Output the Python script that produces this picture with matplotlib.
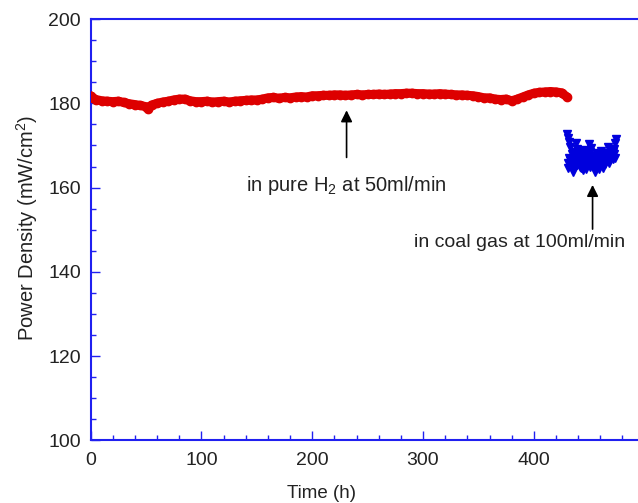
import matplotlib
matplotlib.use("Agg")
import matplotlib.pyplot as plt
from matplotlib.ticker import MultipleLocator

plt.rcParams['font.family'] = ['Liberation Sans', 'DejaVu Sans']
plt.rcParams['mathtext.default'] = 'regular'

# pure H2 run (time in h, power density in mW/cm2)
h2_time = [0, 2, 5, 10, 15, 20, 25, 30, 35, 40, 45, 50, 52, 55, 60, 65, 70, 75,
           80, 85, 90, 95, 100, 105, 110, 115, 120, 125, 130, 135, 140, 145,
           150, 155, 160, 165, 170, 175, 180, 185, 190, 195, 200, 205, 210,
           215, 220, 225, 230, 235, 240, 245, 250, 255, 260, 265, 270, 275,
           280, 285, 290, 295, 300, 305, 310, 315, 320, 325, 330, 335, 340,
           345, 350, 355, 360, 365, 370, 375, 380, 385, 390, 395, 400, 405,
           410, 415, 420, 425, 430]
h2_power = [181.8, 181.2, 180.9, 180.6, 180.5, 180.4, 180.5, 180.2, 179.9,
            179.7, 179.5, 179.2, 178.7, 179.6, 180.0, 180.3, 180.5, 180.8,
            181.0, 181.0, 180.6, 180.4, 180.4, 180.5, 180.3, 180.4, 180.5,
            180.3, 180.5, 180.6, 180.7, 180.8, 180.8, 181.0, 181.3, 181.4,
            181.2, 181.4, 181.3, 181.5, 181.6, 181.5, 181.8, 181.8, 181.9,
            181.9, 182.0, 182.0, 181.9, 182.0, 182.1, 182.0, 182.1, 182.1,
            182.2, 182.1, 182.2, 182.3, 182.3, 182.4, 182.4, 182.3, 182.3,
            182.2, 182.2, 182.3, 182.2, 182.1, 182.0, 182.0, 181.9, 181.8,
            181.6, 181.3, 181.3, 181.0, 180.9, 181.0, 180.6, 181.0, 181.5,
            182.0, 182.4, 182.6, 182.7, 182.8, 182.7, 182.5, 181.5]

# coal gas run
cg_time = [430, 431, 432, 433, 434, 432, 431, 431, 433, 435, 436, 437, 438,
           439, 440, 441, 442, 443, 444, 445, 446, 447, 448, 449, 450, 451,
           452, 453, 454, 455, 456, 457, 458, 459, 460, 461, 462, 463, 464,
           465, 466, 467, 468, 469, 470, 471, 472, 473, 474, 473,
           434, 436, 438, 440, 442, 444, 446, 448, 450, 452, 454, 456, 458,
           460, 462, 464, 466, 468, 470, 472, 435, 439, 443, 447, 451, 455,
           459, 463, 467, 471]
cg_power = [172.8, 171.8, 170.8, 169.6, 168.0, 167.0, 165.8, 164.6, 166.5,
            163.8, 165.2, 167.3, 170.5, 169.2, 168.0, 166.4, 165.0, 167.6,
            164.2, 168.9, 166.8, 165.6, 167.9, 166.2, 170.3, 168.5, 169.3,
            165.3, 167.2, 163.8, 166.0, 168.3, 165.2, 167.0, 166.1, 168.6,
            164.6, 167.4, 165.7, 168.2, 166.6, 169.7, 165.8, 167.8, 168.9,
            166.9, 169.2, 170.5, 171.5, 167.0,
            166.2, 168.4, 166.0, 167.0, 168.6, 166.0, 167.9, 166.6, 168.0,
            166.5, 165.8, 167.5, 167.8, 167.2, 166.4, 167.0, 167.4, 167.0,
            167.6, 168.0, 164.8, 165.4, 164.6, 164.4, 164.8, 165.0, 164.3,
            166.2, 167.6, 168.4]

axis_blue = '#2020f0'
text_col = '#222222'

fig = plt.figure(figsize=(6.38, 5.03), dpi=100)
ax = fig.add_axes([0.142, 0.1243, 0.858, 0.8379])

ax.plot(h2_time, h2_power, color='#dd0000', lw=6.5, marker='o', ms=6,
        solid_capstyle='round', zorder=3)
ax.plot(cg_time, cg_power, ls='none', marker='v', ms=6, color='#0000dd',
        zorder=3)

ax.set_xlim(0, 494)
ax.set_ylim(100, 200)

ax.xaxis.set_major_locator(MultipleLocator(100))
ax.xaxis.set_minor_locator(MultipleLocator(20))
ax.yaxis.set_major_locator(MultipleLocator(20))
ax.yaxis.set_minor_locator(MultipleLocator(5))

for side in ['left', 'bottom', 'top']:
    ax.spines[side].set_color(axis_blue)
    ax.spines[side].set_linewidth(1.5)
ax.spines['right'].set_visible(False)

ax.tick_params(which='both', direction='in', color=axis_blue, width=1,
               labelsize=14, labelcolor=text_col, top=False, right=False)
ax.tick_params(which='major', length=6.5)
ax.tick_params(which='minor', length=3.5)
ax.tick_params(axis='x', pad=8)
ax.tick_params(axis='y', pad=7)

ax.set_xlabel('Time (h)', fontsize=13.5, color=text_col)
ax.set_ylabel('Power Density (mW/cm$^2$)', fontsize=14.5, color=text_col)
ax.xaxis.set_label_coords(0.421, -0.105)
ax.yaxis.set_label_coords(-0.092, 0.504)

arrow = dict(arrowstyle='-|>', color='black', lw=1.2, mutation_scale=17)
ax.annotate('', xy=(231, 179.0), xytext=(231, 166.5), arrowprops=arrow)
ax.text(231, 160.6, 'in pure H$_2$ at 50ml/min', ha='center', va='center',
        fontsize=14.5, color=text_col)
ax.annotate('', xy=(453, 161.3), xytext=(453, 149.5), arrowprops=arrow)
ax.text(387, 146.9, 'in coal gas at 100ml/min', ha='center', va='center',
        fontsize=14, color=text_col)

fig.savefig('out.png', dpi=100)
